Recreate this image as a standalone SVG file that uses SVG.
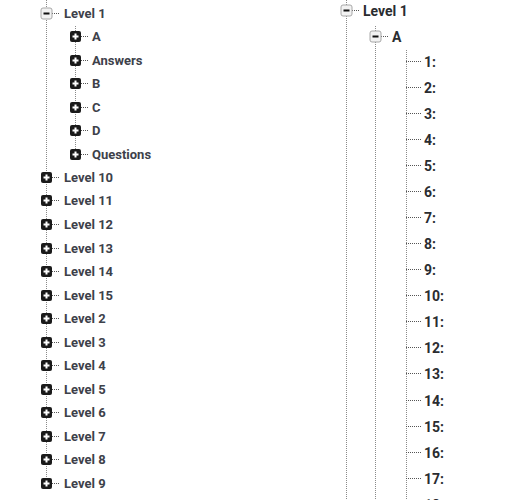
<svg xmlns="http://www.w3.org/2000/svg" width="507" height="500" viewBox="0 0 507 500">
<style>
.t{font-family:Roboto,"Liberation Sans",sans-serif;font-weight:bold;font-size:13px;fill:#3d414a;dominant-baseline:central}
.r{font-size:14px;fill:#2a2c30}
.v{stroke:#8a8a8a;stroke-width:1;stroke-dasharray:1 1;fill:none}
.h{stroke:#555;stroke-width:1;stroke-dasharray:1 1;fill:none}
</style>
<defs>
<g id="plus"><rect x="-5.5" y="-5.5" width="11" height="11" rx="2" fill="#1a1a1a"/><path d="M-3 0H3M0-3V3" stroke="#fff" stroke-width="2"/></g>
<g id="minus"><rect x="-5.5" y="-5.5" width="11" height="11" rx="2" fill="#f2f2f2" stroke="#a8a8a8"/><path d="M-3 0H3" stroke="#111" stroke-width="2"/></g>
</defs>
<rect width="507" height="500" fill="#fff"/>
<g id="connectors">
<path class="v" d="M46.5 0V488M75.5 26V154M346.5 0V500M375.5 26V500M406.5 50V500"/>
<path class="h" d="M52 13.5H60M81 36.5H89M81 60.5H89M81 83.5H89M81 107.5H89M81 130.5H89M81 154.5H89M52 177.5H60M52 200.5H60M52 224.5H60M52 248.5H60M52 271.5H60M52 295.5H60M52 318.5H60M52 342.5H60M52 365.5H60M52 389.5H60M52 412.5H60M52 436.5H60M52 459.5H60M52 483.5H60M352 10.5H360M381 36.5H389M406 61.5H421M406 87.5H421M406 113.5H421M406 139.5H421M406 165.5H421M406 191.5H421M406 217.5H421M406 243.5H421M406 269.5H421M406 295.5H421M406 321.5H421M406 347.5H421M406 373.5H421M406 400.5H421M406 426.5H421M406 452.5H421M406 478.5H421"/>
</g>
<g id="l-level1"><use href="#minus" x="46.5" y="13.5"/><text class="t" x="64" y="13.5">Level 1</text></g>
<g id="l-A"><use href="#plus" x="75.5" y="36.5"/><text class="t" x="92" y="36.5">A</text></g>
<g id="l-Answers"><use href="#plus" x="75.5" y="60.5"/><text class="t" x="92" y="60.5">Answers</text></g>
<g id="l-B"><use href="#plus" x="75.5" y="83.5"/><text class="t" x="92" y="83.5">B</text></g>
<g id="l-C"><use href="#plus" x="75.5" y="107.5"/><text class="t" x="92" y="107.5">C</text></g>
<g id="l-D"><use href="#plus" x="75.5" y="130.5"/><text class="t" x="92" y="130.5">D</text></g>
<g id="l-Questions"><use href="#plus" x="75.5" y="154.5"/><text class="t" x="92" y="154.5">Questions</text></g>
<g id="l-level10"><use href="#plus" x="46.5" y="177.5"/><text class="t" x="64" y="177.5">Level 10</text></g>
<g id="l-level11"><use href="#plus" x="46.5" y="200.5"/><text class="t" x="64" y="200.5">Level 11</text></g>
<g id="l-level12"><use href="#plus" x="46.5" y="224.5"/><text class="t" x="64" y="224.5">Level 12</text></g>
<g id="l-level13"><use href="#plus" x="46.5" y="248.5"/><text class="t" x="64" y="248.5">Level 13</text></g>
<g id="l-level14"><use href="#plus" x="46.5" y="271.5"/><text class="t" x="64" y="271.5">Level 14</text></g>
<g id="l-level15"><use href="#plus" x="46.5" y="295.5"/><text class="t" x="64" y="295.5">Level 15</text></g>
<g id="l-level2"><use href="#plus" x="46.5" y="318.5"/><text class="t" x="64" y="318.5">Level 2</text></g>
<g id="l-level3"><use href="#plus" x="46.5" y="342.5"/><text class="t" x="64" y="342.5">Level 3</text></g>
<g id="l-level4"><use href="#plus" x="46.5" y="365.5"/><text class="t" x="64" y="365.5">Level 4</text></g>
<g id="l-level5"><use href="#plus" x="46.5" y="389.5"/><text class="t" x="64" y="389.5">Level 5</text></g>
<g id="l-level6"><use href="#plus" x="46.5" y="412.5"/><text class="t" x="64" y="412.5">Level 6</text></g>
<g id="l-level7"><use href="#plus" x="46.5" y="436.5"/><text class="t" x="64" y="436.5">Level 7</text></g>
<g id="l-level8"><use href="#plus" x="46.5" y="459.5"/><text class="t" x="64" y="459.5">Level 8</text></g>
<g id="l-level9"><use href="#plus" x="46.5" y="483.5"/><text class="t" x="64" y="483.5">Level 9</text></g>
<g id="r-level1"><use href="#minus" x="346.5" y="10.5"/><text class="t r" x="363" y="10.5">Level 1</text></g>
<g id="r-A"><use href="#minus" x="375.5" y="36.5"/><text class="t r" x="392" y="36.5">A</text></g>
<g id="r-1"><text class="t r" x="424" y="61.5">1:</text></g>
<g id="r-2"><text class="t r" x="424" y="87.5">2:</text></g>
<g id="r-3"><text class="t r" x="424" y="113.5">3:</text></g>
<g id="r-4"><text class="t r" x="424" y="139.5">4:</text></g>
<g id="r-5"><text class="t r" x="424" y="165.5">5:</text></g>
<g id="r-6"><text class="t r" x="424" y="191.5">6:</text></g>
<g id="r-7"><text class="t r" x="424" y="217.5">7:</text></g>
<g id="r-8"><text class="t r" x="424" y="243.5">8:</text></g>
<g id="r-9"><text class="t r" x="424" y="269.5">9:</text></g>
<g id="r-10"><text class="t r" x="424" y="295.5">10:</text></g>
<g id="r-11"><text class="t r" x="424" y="321.5">11:</text></g>
<g id="r-12"><text class="t r" x="424" y="347.5">12:</text></g>
<g id="r-13"><text class="t r" x="424" y="373.5">13:</text></g>
<g id="r-14"><text class="t r" x="424" y="400.5">14:</text></g>
<g id="r-15"><text class="t r" x="424" y="426.5">15:</text></g>
<g id="r-16"><text class="t r" x="424" y="452.5">16:</text></g>
<g id="r-17"><text class="t r" x="424" y="478.5">17:</text></g>
<g id="r-18"><text class="t r" x="424" y="504.5">18:</text></g>
</svg>
